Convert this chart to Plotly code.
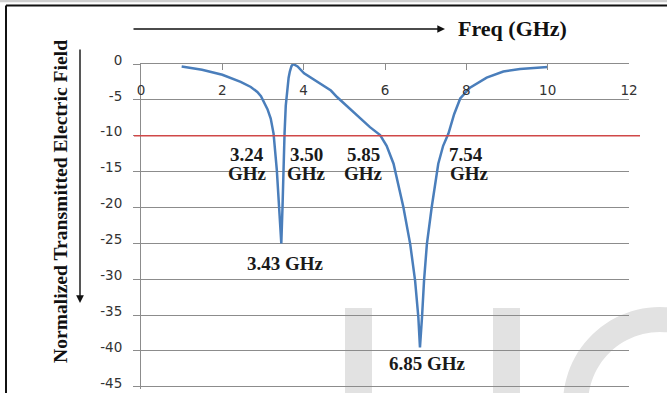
import numpy as np
import plotly.graph_objects as go

# ---------------- data ----------------
freq = [1.0, 1.5, 2.0, 2.45, 2.7, 2.86, 2.95, 3.03, 3.11, 3.19, 3.26, 3.34, 3.40, 3.45, 3.48, 3.50,
        3.53, 3.56, 3.60, 3.63, 3.66, 3.70, 3.74, 3.85, 4.01, 4.35, 4.67, 4.82, 5.22, 5.63,
        5.88, 6.04, 6.21, 6.45, 6.62, 6.74, 6.82, 6.86, 6.91, 6.96, 7.03, 7.15,
        7.31, 7.43, 7.56, 7.7, 7.85, 8.09, 8.5, 8.91, 9.32, 10.0]
field = [-0.34, -0.8, -1.5, -2.5, -3.2, -3.9, -4.5, -5.3, -6.3, -7.6, -9.7, -14.8, -19.9, -25.0, -19.9, -14.8,
         -9.7, -5.8, -3.0, -1.9, -1.05, -0.3, 0.0, -0.35, -1.3, -2.5, -3.7, -4.6, -6.7, -8.8,
         -9.9, -11.4, -13.9, -19.9, -25.1, -30.2, -35.3, -39.5, -35.3, -30.2, -25.1, -19.9,
         -13.9, -11.4, -9.7, -7.0, -4.8, -3.3, -1.9, -1.05, -0.7, -0.42]
threshold = -10
x_ticks = [0, 2, 4, 6, 8, 10, 12]
y_ticks = [0, -5, -10, -15, -20, -25, -30, -35, -40, -45]
crossing_labels = ["3.24", "3.50", "5.85", "7.54"]
dip_labels = ["3.43 GHz", "6.85 GHz"]
x_title = "Freq (GHz)"
y_title = "Normalized Transmitted Electric Field"

# ---------------- geometry helpers (pixels -> paper) ----------------
W, H = 667, 393
L, R, T, B = 141, 629, 64, 389
PW, PH = R - L, B - T


def px(xp):
    return (xp - L) / PW


def py(yp):
    return (B - yp) / PH


SERIF = "Liberation Serif"
fig = go.Figure()

fig.add_trace(go.Scatter(
    x=freq, y=field, mode="lines",
    line=dict(color="#4A7EBB", width=2.5, shape="linear"),
    hoverinfo="skip", showlegend=False,
))

shapes = []
wm = "#e2e2e2"
# watermark pieces (background decoration)
for x0 in (345, 493):
    shapes.append(dict(type="rect", xref="paper", yref="paper",
                       x0=px(x0), x1=px(x0 + 27), y0=py(400), y1=py(308),
                       fillcolor=wm, line=dict(width=0), layer="below"))
cx, cy, ro, ri = 660, 404, 97, 72
th = np.radians(np.linspace(80, 280, 60))
outer = [(cx + ro * np.cos(t), cy - ro * np.sin(t)) for t in th]
inner = [(cx + ri * np.cos(t), cy - ri * np.sin(t)) for t in th[::-1]]
pts = outer + inner
path = "M " + " L ".join(f"{px(a):.4f},{py(b):.4f}" for a, b in pts) + " Z"
shapes.append(dict(type="path", xref="paper", yref="paper", path=path,
                   fillcolor=wm, line=dict(width=0), layer="below"))

# threshold line
shapes.append(dict(type="line", xref="paper", yref="y",
                   x0=px(134), x1=px(640), y0=threshold, y1=threshold,
                   line=dict(color="#D04848", width=1.6), layer="above"))
# frame
shapes.append(dict(type="line", xref="paper", yref="paper",
                   x0=px(0), x1=px(W), y0=py(1), y1=py(1),
                   line=dict(color="#cfcfcf", width=2.5)))
shapes.append(dict(type="line", xref="paper", yref="paper",
                   x0=px(6), x1=px(W + 2), y0=py(5.5), y1=py(5.5),
                   line=dict(color="#111111", width=2)))
shapes.append(dict(type="line", xref="paper", yref="paper",
                   x0=px(6), x1=px(6), y0=py(5.5), y1=py(H + 5),
                   line=dict(color="#111111", width=2)))

annotations = []
lab_font = dict(family=SERIF, size=19, color="#1a1a1a")
label_px = [247, 306, 363, 466]
for txt, xp in zip(crossing_labels, label_px):
    annotations.append(dict(xref="paper", yref="paper", x=px(xp), y=py(154),
                            text=f"<b>{txt}</b>", showarrow=False, font=lab_font,
                            xanchor="center", yanchor="middle"))
    annotations.append(dict(xref="paper", yref="paper", x=px(xp + (3 if txt == "7.54" else 0)), y=py(173),
                            text="<b>GHz</b>", showarrow=False, font=lab_font,
                            xanchor="center", yanchor="middle"))
for txt, (xp, yp) in zip(dip_labels, [(285, 263), (427, 363)]):
    annotations.append(dict(xref="paper", yref="paper", x=px(xp), y=py(yp),
                            text=f"<b>{txt}</b>", showarrow=False, font=lab_font,
                            xanchor="center", yanchor="middle"))

# axis titles with arrows
annotations.append(dict(xref="paper", yref="paper", x=px(512), y=py(28),
                        text=f"<b>{x_title}</b>", showarrow=False,
                        font=dict(family=SERIF, size=22, color="#111111"),
                        xanchor="center", yanchor="middle"))
annotations.append(dict(xref="paper", yref="paper", x=px(445), y=py(29),
                        ax=-313, ay=0, text="", showarrow=True,
                        arrowhead=2, arrowsize=1.1, arrowwidth=1.4, arrowcolor="#111111"))
annotations.append(dict(xref="paper", yref="paper", x=px(60), y=py(202),
                        text=f"<b>{y_title}</b>", showarrow=False, textangle=-90,
                        font=dict(family=SERIF, size=19.6, color="#111111"),
                        xanchor="center", yanchor="middle"))
annotations.append(dict(xref="paper", yref="paper", x=px(80), y=py(303),
                        ax=0, ay=-255, text="", showarrow=True,
                        arrowhead=2, arrowsize=1.1, arrowwidth=1.4, arrowcolor="#111111"))

grid = "#8c8c8c"
tick_font = dict(family="DejaVu Sans", size=13.5, color="#333333")
fig.update_layout(
    width=W, height=H,
    margin=dict(l=L, r=W - R, t=T, b=H - B, pad=0),
    paper_bgcolor="white", plot_bgcolor="rgba(0,0,0,0)",
    showlegend=False,
    shapes=shapes, annotations=annotations,
    xaxis=dict(range=[0, 12], side="top", tickvals=x_ticks,
               ticktext=[str(v) for v in x_ticks],
               ticks="inside", ticklen=6, tickcolor=grid, tickwidth=1,
               showline=True, linecolor=grid, linewidth=1,
               showgrid=False, zeroline=False, automargin=False,
               ticklabelposition="inside", ticklabelstandoff=15,
               ticklabeloverflow="allow", tickfont=tick_font),
    yaxis=dict(range=[-45.3, 0], tickvals=y_ticks,
               ticktext=[str(v) for v in y_ticks],
               ticks="outside", ticklen=7, tickcolor=grid, tickwidth=1,
               showline=True, linecolor=grid, linewidth=1,
               showgrid=True, gridcolor=grid, gridwidth=1, automargin=False,
               ticklabeloverflow="allow", ticklabelshift=-4,
               zeroline=False, tickfont=tick_font, ticklabelstandoff=8),
)

fig.write_html("out.html", config={"displayModeBar": False},
               post_script="document.body.style.margin='0';document.body.style.padding='0';")
